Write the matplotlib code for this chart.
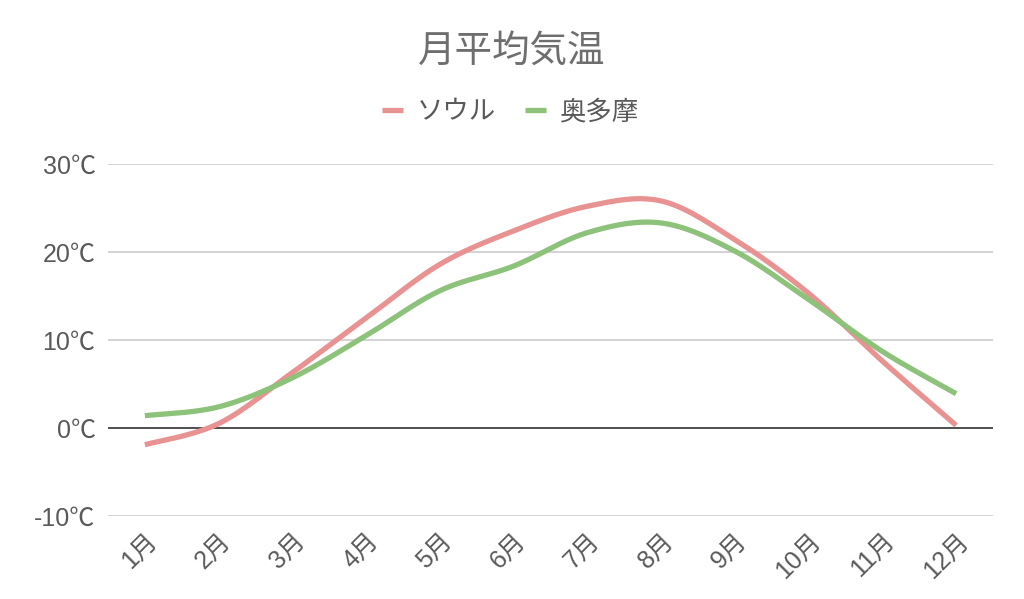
import numpy as np
import matplotlib
matplotlib.use("Agg")
import matplotlib.pyplot as plt

plt.rcParams['font.family'] = ['Liberation Sans', 'Noto Sans CJK JP', 'DejaVu Sans']

months = ["1月", "2月", "3月", "4月", "5月", "6月", "7月", "8月", "9月", "10月", "11月", "12月"]
seoul = [-1.9, 0.5, 6.3, 12.5, 18.6, 22.4, 25.2, 25.8, 21.4, 15.3, 7.6, 0.3]
okutama = [1.4, 2.4, 5.7, 10.5, 15.6, 18.4, 22.2, 23.3, 20.1, 14.6, 8.7, 3.9]
series_names = ["ソウル", "奥多摩"]
y_ticks = [-10, 0, 10, 20, 30]
y_labels = ["-10℃", "0℃", "10℃", "20℃", "30℃"]
title = "月平均気温"

colors = ["#E89292", "#8DC27A"]
text_color = "#595959"


def smooth(xs, ys, n=40):
    xs = np.asarray(xs, float)
    ys = np.asarray(ys, float)
    P = np.column_stack([xs, ys])
    out = []
    m = len(P)
    for i in range(m - 1):
        p0 = P[i - 1] if i > 0 else P[i]
        p1 = P[i]
        p2 = P[i + 1]
        p3 = P[i + 2] if i + 2 < m else P[i + 1]
        c1 = p1 + (p2 - p0) / 6.0
        c2 = p2 - (p3 - p1) / 6.0
        t = np.linspace(0, 1, n)[:, None]
        seg = ((1 - t) ** 3) * p1 + 3 * ((1 - t) ** 2) * t * c1 + 3 * (1 - t) * t ** 2 * c2 + t ** 3 * p2
        if i > 0:
            seg = seg[1:]
        out.append(seg)
    out = np.vstack(out)
    return out[:, 0], out[:, 1]


fig = plt.figure(figsize=(10.24, 5.99), dpi=100)
ax = fig.add_axes([108 / 1024, 1 - 516 / 599, (993 - 108) / 1024, (516 - 164) / 599])

x = np.arange(len(months))
for vals, name, c in zip([seoul, okutama], series_names, colors):
    sx, sy = smooth(x, vals)
    ax.plot(sx, sy, color=c, lw=3.8, label=name, solid_capstyle='butt', zorder=3)

ax.set_xlim(-0.5, len(months) - 0.5)
ax.set_ylim(-10, 30)
ax.set_yticks(y_ticks)
ax.set_yticklabels(y_labels)
ax.set_xticks(x)
ax.set_xticklabels(months, rotation=45, ha='right', rotation_mode='anchor')

for yv in y_ticks:
    if yv == 0:
        ax.axhline(yv, color="#404040", lw=1.3, zorder=2)
    else:
        ax.axhline(yv, color="#D0D0D0", lw=1.3, zorder=1)

for s in ax.spines.values():
    s.set_visible(False)
ax.tick_params(axis='both', length=0, colors=text_color, labelsize=18)
ax.tick_params(axis='y', pad=9)
ax.tick_params(axis='x', pad=9)
for lab in ax.get_xticklabels() + ax.get_yticklabels():
    lab.set_color(text_color)

fig.text(0.5, 1 - 52 / 599, title, ha='center', va='center', fontsize=27, color="#6E6E6E")

handles, labels = ax.get_legend_handles_labels()
leg = fig.legend(handles, labels, loc='center', bbox_to_anchor=(510 / 1024, 1 - 112 / 599),
                 bbox_transform=fig.transFigure,
                 ncol=2, frameon=False, fontsize=19, handlelength=0.8, handletextpad=0.5, columnspacing=1.1)
for t in leg.get_texts():
    t.set_color(text_color)

fig.savefig("out.png", dpi=100, facecolor="white")
